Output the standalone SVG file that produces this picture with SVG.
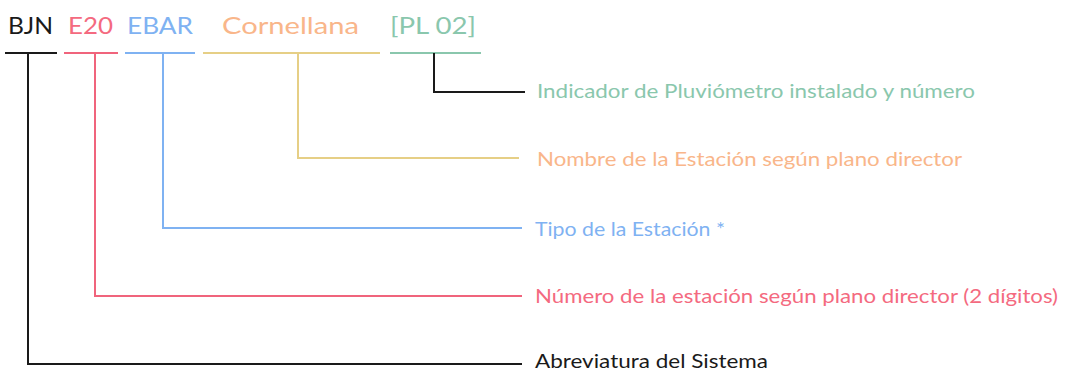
<svg xmlns="http://www.w3.org/2000/svg" width="1068" height="372" viewBox="0 0 1068 372">
<style>
.t{font-family:Lato,"Open Sans","Liberation Sans",sans-serif;}
.top{font-size:24px;}
.lbl{font-size:20px;}
.ln{fill:none;stroke-width:2;}
.k{stroke:#1a1a1a;} .r{stroke:#f0647c;} .b{stroke:#7fb2f2;} .y{stroke:#e6cf86;} .g{stroke:#8ac7ad;}
</style>
<rect width="1068" height="372" fill="#ffffff"/>
<g id="code">
<text class="t top" x="8" y="34" fill="#1a1a1a" textLength="45" lengthAdjust="spacingAndGlyphs">BJN</text>
<text class="t top" x="68" y="34" fill="#f46a80" textLength="45" lengthAdjust="spacingAndGlyphs">E20</text>
<text class="t top" x="127" y="34" fill="#7fb2f2" textLength="66" lengthAdjust="spacingAndGlyphs">EBAR</text>
<text class="t top" x="222" y="34" fill="#f9b68a" textLength="137" lengthAdjust="spacingAndGlyphs">Cornellana</text>
<text class="t top" x="390" y="34" fill="#8ac7ad" textLength="86" lengthAdjust="spacingAndGlyphs">[PL 02]</text>
</g>
<g id="connectors">
<line class="ln k" x1="5" y1="53" x2="57" y2="53"/>
<line class="ln r" x1="64" y1="53" x2="118" y2="53"/>
<line class="ln b" x1="125" y1="53" x2="195" y2="53"/>
<line class="ln y" x1="203" y1="53" x2="380" y2="53"/>
<line class="ln g" x1="390" y1="53" x2="481" y2="53"/>
<polyline class="ln k" points="434,53 434,92 525,92"/>
<polyline class="ln y" points="298,53 298,158 519,158"/>
<polyline class="ln b" points="163,53 163,228 522,228"/>
<polyline class="ln r" points="95,53 95,296 522,296"/>
<polyline class="ln k" points="28,53 28,364 522,364"/>
</g>
<g id="label-pluviometro"><text class="t lbl" x="537" y="98" fill="#8ac7ad" textLength="438" lengthAdjust="spacingAndGlyphs">Indicador de Pluviómetro instalado y número</text></g>
<g id="label-nombre"><text class="t lbl" x="537" y="166" fill="#f9b68a" textLength="425" lengthAdjust="spacingAndGlyphs">Nombre de la Estación según plano director</text></g>
<g id="label-tipo"><text class="t lbl" x="535" y="236" fill="#7fb2f2" textLength="190" lengthAdjust="spacingAndGlyphs">Tipo de la Estación *</text></g>
<g id="label-numero"><text class="t lbl" x="535" y="303" fill="#f46a80" textLength="523" lengthAdjust="spacingAndGlyphs">Número de la estación según plano director (2 dígitos)</text></g>
<g id="label-abreviatura"><text class="t lbl" x="535" y="368" fill="#1a1a1a" textLength="233" lengthAdjust="spacingAndGlyphs">Abreviatura del Sistema</text></g>
</svg>
